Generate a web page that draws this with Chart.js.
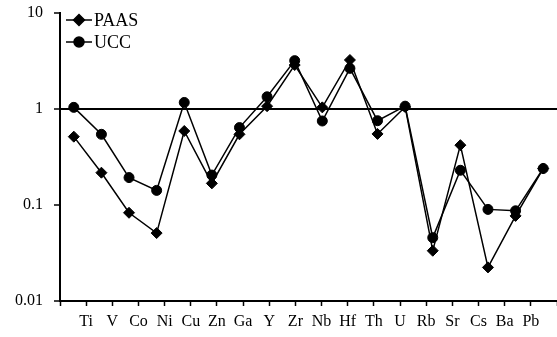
<!DOCTYPE html>
<html>
<head>
<meta charset="utf-8">
<script src="https://cdn.jsdelivr.net/npm/chart.js@4.4.1/dist/chart.umd.min.js"></script>
<style>
html, body { margin: 0; padding: 0; background: #fff; }
</style>
</head>
<body>
<canvas id="chart" width="557" height="337"></canvas>
<script>
// 元素（横轴）
const elements = ['Ti', 'V', 'Co', 'Ni', 'Cu', 'Zn', 'Ga', 'Y', 'Zr', 'Nb', 'Hf', 'Th', 'U', 'Rb', 'Sr', 'Cs', 'Ba', 'Pb'];
// 系列名称
const seriesNames = ['PAAS', 'UCC'];
// 标准化值
const paasValues = [0.515, 0.217, 0.083, 0.051, 0.59, 0.168, 0.545, 1.07, 2.87, 1.04, 3.24, 0.55, 1.05, 0.0334, 0.42, 0.0224, 0.077, 0.24];
const uccValues = [1.04, 0.545, 0.193, 0.142, 1.17, 0.205, 0.64, 1.34, 3.19, 0.75, 2.65, 0.755, 1.07, 0.0457, 0.23, 0.090, 0.087, 0.24];
// 纵轴刻度
const yTicks = [0.01, 0.1, 1, 10];

const serif = '"Liberation Serif", "Times New Roman", serif';

// 去掉刻度标签带来的额外边距
function noPadding(s) {
    s.paddingTop = 0;
    s.paddingBottom = 0;
    s.paddingLeft = 0;
    s.paddingRight = 0;
}

// 图例：线段 + 标记
const lineLegend = {
    id: 'lineLegend',
    afterDraw(chart) {
        const ctx = chart.ctx;
        const left = chart.chartArea.left + 6;
        chart.data.datasets.forEach((ds, i) => {
            const y = chart.chartArea.top + 7 + i * 22;
            ctx.save();
            ctx.strokeStyle = '#000';
            ctx.fillStyle = '#000';
            ctx.lineWidth = 1.5;
            ctx.beginPath();
            ctx.moveTo(left, y);
            ctx.lineTo(left + 26, y);
            ctx.stroke();
            Chart.helpers.drawPoint(ctx, { pointStyle: ds.pointStyle, radius: ds.pointRadius, borderWidth: 1 }, left + 13, y);
            ctx.font = '18px ' + serif;
            ctx.textBaseline = 'middle';
            ctx.fillText(ds.label, left + 28, y + 1);
            ctx.restore();
        });
    }
};

new Chart(document.getElementById('chart'), {
    type: 'line',
    data: {
        labels: elements,
        datasets: [
            {
                label: seriesNames[0],
                data: paasValues,
                borderColor: '#000',
                backgroundColor: '#000',
                borderWidth: 1.5,
                pointStyle: 'rectRot',
                pointRadius: 5.5,
                pointBorderWidth: 1,
                tension: 0
            },
            {
                label: seriesNames[1],
                data: uccValues,
                borderColor: '#000',
                backgroundColor: '#000',
                borderWidth: 1.5,
                pointStyle: 'circle',
                pointRadius: 5,
                pointBorderWidth: 1,
                tension: 0
            }
        ]
    },
    options: {
        responsive: false,
        animation: false,
        layout: { autoPadding: false, padding: { top: 13, right: 0, left: 0, bottom: 0 } },
        plugins: {
            legend: { display: false },
            tooltip: { enabled: false }
        },
        scales: {
            x: {
                type: 'category',
                offset: true,
                display: false,
                afterFit: s => { noPadding(s); }
            },
            xLabels: {
                type: 'linear',
                position: 'bottom',
                min: 0,
                max: elements.length + 1,
                afterBuildTicks: axis => {
                    axis.ticks = [];
                    for (let i = 0; i <= elements.length + 1; i++) axis.ticks.push({ value: i });
                },
                ticks: {
                    callback: v => elements[v - 1] || '',
                    font: { family: serif, size: 16 },
                    color: '#000',
                    maxRotation: 0,
                    autoSkip: false,
                    padding: 6
                },
                grid: { drawOnChartArea: false, tickLength: 5, tickColor: '#000', tickWidth: 1.5 },
                border: { color: '#000', width: 2 },
                afterFit: s => { s.height = 36; noPadding(s); }
            },
            y: {
                type: 'logarithmic',
                min: 0.01,
                max: 10,
                afterBuildTicks: axis => {
                    axis.ticks = yTicks.map(v => ({ value: v }));
                },
                ticks: {
                    callback: v => String(v),
                    font: { family: serif, size: 16 },
                    color: '#000',
                    padding: 11
                },
                grid: {
                    color: c => (c.tick && c.tick.value === 1) ? '#000' : 'rgba(0,0,0,0)',
                    lineWidth: 2,
                    tickColor: '#000',
                    tickLength: 6,
                    tickWidth: 1.5
                },
                border: { color: '#000', width: 2 },
                afterFit: s => { s.width = 60; noPadding(s); }
            }
        }
    },
    plugins: [lineLegend]
});
</script>
</body>
</html>
